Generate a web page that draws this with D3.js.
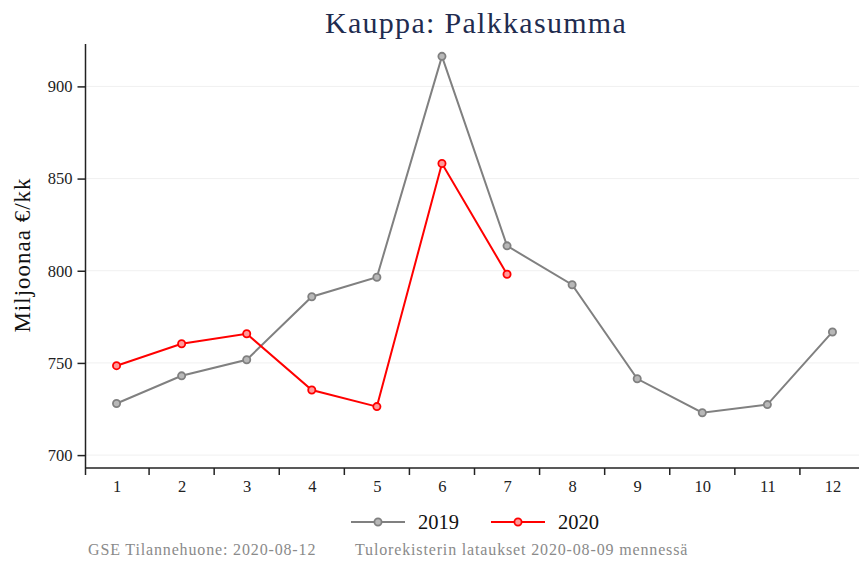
<!DOCTYPE html>
<html>
<head>
<meta charset="utf-8">
<script src="https://cdn.jsdelivr.net/npm/d3@7"></script>
<style>
  body { margin: 0; background: #fff; }
  svg { display: block; font-family: "Liberation Serif", "DejaVu Serif", serif; }
</style>
</head>
<body>
<div id="chart"></div>
<script>
// months on the x axis
const months = [1, 2, 3, 4, 5, 6, 7, 8, 9, 10, 11, 12];
// payroll, million €/month
const values2019 = [728, 743, 751.7, 785.9, 796.5, 916.3, 813.5, 792.4, 741.4, 723, 727.4, 766.8];
const values2020 = [748.5, 760.4, 765.8, 735.3, 726.3, 858.2, 798.1];
const yTicks = [700, 750, 800, 850, 900];

const width = 859, height = 568;
const svg = d3.select('#chart').append('svg')
  .attr('width', width)
  .attr('height', height);

const x = d3.scaleLinear().domain([0.5, 12.5]).range([84, 865]);
const y = d3.scaleLinear().domain([693, 923]).range([468, 44]);
const axisLeft = 85.5;

// gridlines
svg.append('g')
  .selectAll('line')
  .data(yTicks)
  .join('line')
  .attr('x1', axisLeft).attr('x2', width)
  .attr('y1', d => y(d)).attr('y2', d => y(d))
  .attr('stroke', '#f0f0f0')
  .attr('stroke-width', 1);

// y axis
const yAxis = svg.append('g')
  .attr('transform', `translate(${axisLeft},0)`)
  .call(d3.axisLeft(y).tickValues(yTicks).tickSize(8).tickPadding(5));
yAxis.select('.domain').attr('d', `M0,${y.range()[1]}V${y.range()[0]}`);

// x axis: labels at months, tick marks between months
const xAxis = svg.append('g')
  .attr('transform', `translate(0,${y.range()[0]})`)
  .call(d3.axisBottom(x).tickValues(months).tickSize(0).tickPadding(12).tickFormat(d3.format('d')));
xAxis.select('.domain').attr('d', `M${axisLeft},0H${width}`);
svg.append('g')
  .attr('transform', `translate(0,${y.range()[0]})`)
  .selectAll('line')
  .data(d3.range(0.5, 12.5, 1))
  .join('line')
  .attr('x1', d => Math.max(x(d), axisLeft)).attr('x2', d => Math.max(x(d), axisLeft))
  .attr('y1', 0).attr('y2', 7)
  .attr('stroke', '#222')
  .attr('stroke-width', 1.5);

svg.selectAll('.domain').attr('stroke', '#222').attr('stroke-width', 1.5);
svg.selectAll('.tick line').attr('stroke', '#222').attr('stroke-width', 1.5);
svg.selectAll('.tick text')
  .attr('font-family', '"Liberation Serif", serif')
  .attr('font-size', 16.5)
  .attr('fill', '#222');

// series
const series = [
  { name: '2019', values: values2019, color: '#808080', fill: '#b8b8b8' },
  { name: '2020', values: values2020, color: '#ff0000', fill: '#ff9a9a' }
];

const line = d3.line()
  .x((d, i) => x(months[i]))
  .y(d => y(d));

series.forEach(s => {
  svg.append('path')
    .datum(s.values)
    .attr('d', line)
    .attr('fill', 'none')
    .attr('stroke', s.color)
    .attr('stroke-width', 2);
  svg.append('g')
    .selectAll('circle')
    .data(s.values)
    .join('circle')
    .attr('cx', (d, i) => x(months[i]))
    .attr('cy', d => y(d))
    .attr('r', 3.6)
    .attr('fill', s.fill)
    .attr('stroke', s.color)
    .attr('stroke-width', 1.8);
});

// title
svg.append('text')
  .attr('x', 476).attr('y', 33)
  .attr('text-anchor', 'middle')
  .attr('font-size', 30)
  .attr('letter-spacing', 1.3)
  .attr('fill', '#1f2c4f')
  .text('Kauppa: Palkkasumma');

// y label
svg.append('text')
  .attr('transform', 'translate(30,255) rotate(-90)')
  .attr('text-anchor', 'middle')
  .attr('font-size', 23)
  .attr('letter-spacing', 1)
  .attr('fill', '#111')
  .text('Miljoonaa €/kk');

// legend
const legendY = 522;
const legendX = [351, 491];
series.forEach((s, i) => {
  const lx = legendX[i];
  svg.append('line')
    .attr('x1', lx).attr('x2', lx + 54)
    .attr('y1', legendY).attr('y2', legendY)
    .attr('stroke', s.color).attr('stroke-width', 2);
  svg.append('circle')
    .attr('cx', lx + 27).attr('cy', legendY).attr('r', 3.6)
    .attr('fill', s.fill).attr('stroke', s.color).attr('stroke-width', 1.8);
  svg.append('text')
    .attr('x', lx + 67).attr('y', legendY + 7)
    .attr('font-size', 20.5)
    .attr('fill', '#111')
    .text(s.name);
});

// footer
svg.append('text')
  .attr('x', 88).attr('y', 555)
  .attr('font-size', 16)
  .attr('letter-spacing', 0.85)
  .attr('fill', '#8a8a8a')
  .text('GSE Tilannehuone: 2020-08-12');
svg.append('text')
  .attr('x', 355).attr('y', 555)
  .attr('font-size', 16)
  .attr('letter-spacing', 0.85)
  .attr('fill', '#8a8a8a')
  .text('Tulorekisterin lataukset 2020-08-09 mennessä');
</script>
</body>
</html>
